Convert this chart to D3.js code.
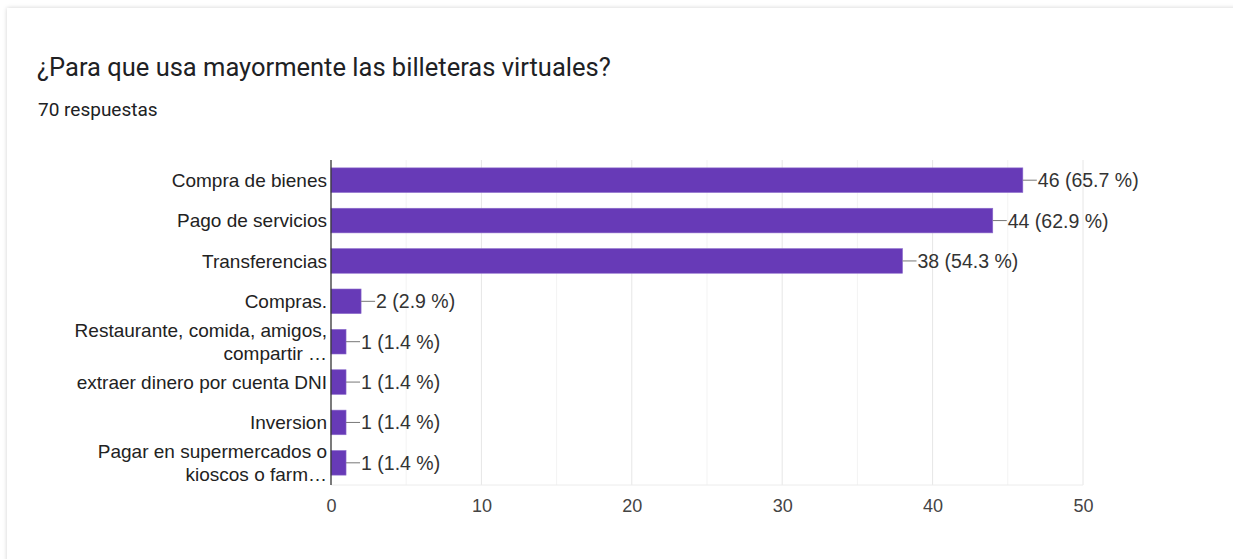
<!DOCTYPE html>
<html>
<head>
<meta charset="utf-8">
<script src="https://cdn.jsdelivr.net/npm/d3@7"></script>
<style>
  html, body { margin: 0; padding: 0; background: #ffffff; }
  svg { display: block; }
</style>
</head>
<body>
<svg id="chart" width="1233" height="559"></svg>
<script>
// Survey answers: labels (one entry per line), counts and printed percentages
const categories = [
  ["Compra de bienes"],
  ["Pago de servicios"],
  ["Transferencias"],
  ["Compras."],
  ["Restaurante, comida, amigos,", "compartir \u2026"],
  ["extraer dinero por cuenta DNI"],
  ["Inversion"],
  ["Pagar en supermercados o", "kioscos o farm\u2026"]
];
const counts = [46, 44, 38, 2, 1, 1, 1, 1];
const percents = ["65.7", "62.9", "54.3", "2.9", "1.4", "1.4", "1.4", "1.4"];
const xTicks = [0, 10, 20, 30, 40, 50];
const minorTicks = [5, 15, 25, 35, 45];

const title = "\u00BFPara que usa mayormente las billeteras virtuales?";
const subtitle = "70 respuestas";

const svg = d3.select("#chart");
const W = 1233, H = 559;

// card with soft shadow
const defs = svg.append("defs");
const f = defs.append("filter").attr("id", "shadow").attr("x", "-5%").attr("y", "-5%").attr("width", "110%").attr("height", "110%");
f.append("feDropShadow").attr("dx", 0).attr("dy", 0).attr("stdDeviation", 2).attr("flood-color", "#000").attr("flood-opacity", 0.18);

svg.append("rect")
  .attr("x", 7).attr("y", 8).attr("width", W + 20).attr("height", H + 20)
  .attr("fill", "#fff").attr("filter", "url(#shadow)");

svg.append("text")
  .attr("x", 37).attr("y", 76)
  .attr("font-family", "Roboto, Arial, sans-serif")
  .attr("font-size", 25.5)
  .attr("fill", "#202124")
  .text(title);

svg.append("text")
  .attr("x", 38).attr("y", 116)
  .attr("font-family", "Roboto, Arial, sans-serif")
  .attr("font-size", 19)
  .attr("fill", "#202124")
  .text(subtitle);

const plot = { left: 331, right: 1083, top: 160, bottom: 483 };
const font = "'Liberation Sans', Arial, sans-serif";

const x = d3.scaleLinear().domain([0, 50]).range([plot.left, plot.right]);
const y = d3.scaleBand().domain(d3.range(categories.length))
  .range([plot.top, plot.bottom]).paddingInner(0.39).paddingOuter(0.195);

const g = svg.append("g");

// gridlines
g.selectAll("line.minor").data(minorTicks).join("line")
  .attr("x1", d => x(d)).attr("x2", d => x(d))
  .attr("y1", plot.top).attr("y2", plot.bottom + 2)
  .attr("stroke", "#f3f3f3").attr("stroke-width", 1);
g.selectAll("line.major").data(xTicks.slice(1)).join("line")
  .attr("x1", d => x(d)).attr("x2", d => x(d))
  .attr("y1", plot.top).attr("y2", plot.bottom + 2)
  .attr("stroke", "#e6e6e6").attr("stroke-width", 1);
g.append("line")
  .attr("x1", plot.left).attr("x2", plot.right)
  .attr("y1", plot.bottom + 2).attr("y2", plot.bottom + 2)
  .attr("stroke", "#ececec");

// x axis labels
const xAxis = d3.axisBottom(x).tickValues(xTicks).tickSize(0).tickPadding(14);
const ax = g.append("g").attr("transform", `translate(0,${plot.bottom + 2})`).call(xAxis);
ax.select(".domain").remove();
ax.selectAll("text")
  .attr("font-family", font).attr("font-size", 18).attr("fill", "#444");

// bars
g.selectAll("rect.bar").data(counts).join("rect")
  .attr("class", "bar")
  .attr("x", x(0))
  .attr("y", (d, i) => y(i))
  .attr("width", d => x(d) - x(0))
  .attr("height", y.bandwidth())
  .attr("fill", "#673ab7")
  .attr("stroke", "#8d6ccc").attr("stroke-width", 0.6);

// value annotations with leader lines
counts.forEach((d, i) => {
  const cy = y(i) + y.bandwidth() / 2;
  const x0 = x(d);
  g.append("line")
    .attr("x1", x0).attr("x2", x0 + 14)
    .attr("y1", cy).attr("y2", cy)
    .attr("stroke", "#777").attr("stroke-width", 1);
  g.append("text")
    .attr("x", x0 + 15).attr("y", cy).attr("dy", "0.36em")
    .attr("font-family", font).attr("font-size", 19.5).attr("fill", "#333")
    .text(`${d} (${percents[i]} %)`);
});

// category labels
categories.forEach((lines, i) => {
  const cy = y(i) + y.bandwidth() / 2;
  const lh = 22.5;
  const t = g.append("text")
    .attr("text-anchor", "end")
    .attr("font-family", font).attr("font-size", 19).attr("fill", "#222");
  lines.forEach((ln, k) => {
    t.append("tspan")
      .attr("x", plot.left - 4)
      .attr("y", cy + (k - (lines.length - 1) / 2) * lh)
      .attr("dy", "0.36em")
      .text(ln);
  });
});

// vertical axis line
g.append("line")
  .attr("x1", plot.left).attr("x2", plot.left)
  .attr("y1", plot.top).attr("y2", plot.bottom + 2)
  .attr("stroke", "#333").attr("stroke-width", 1.3);
</script>
</body>
</html>
